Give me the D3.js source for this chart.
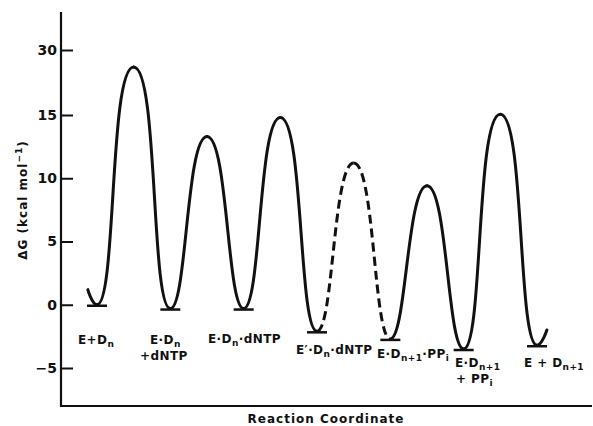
<!DOCTYPE html>
<html>
<head>
<meta charset="utf-8">
<script src="https://cdn.jsdelivr.net/npm/d3@7"></script>
<style>
body { margin: 0; background: #fff; }
text { font-family: "DejaVu Sans", sans-serif; font-weight: bold; fill: #111; }
</style>
</head>
<body>
<svg id="chart" width="593" height="426"></svg>
<script>
// stationary points of the free energy profile (reaction coordinate, kcal/mol)
var coord = [-0.25, 0, 1, 2, 3, 4, 5, 6, 7, 8, 9, 10, 11, 12, 12.27]
var energy = [1.2, 0, 26.1, -0.3, 13.3, -0.3, 14.8, -2.1, 11.2, -2.7, 9.4, -3.5, 15.2, -3.2, -2.0]

// segments (point i -> i+1) drawn dashed
var dashedSegs = [7, 8]

// ground states and their labels ({..} = subscript, ^..^ = superscript)
var stateCoord = [0, 2, 4, 6, 8, 10, 12]
var stateEnergy = [0, -0.3, -0.3, -2.1, -2.7, -3.5, -3.2]
var stateLabels = [
	["E+D{n}"],
	["E·D{n}", "+dNTP"],
	["E·D{n}·dNTP"],
	["E′·D{n}·dNTP"],
	["E·D{n+1}·PP{i}"],
	["E·D{n+1}", "+ PP{i}"],
	["E + D{n+1}"]
]

// y axis ticks (the axis is broken above 15)
var tickValues = [-5, 0, 5, 10, 15, 30]
var tickLabels = ["−5", "0", "5", "10", "15", "30"]

// label placement: left x, first baseline, left x of second line
var labelPos = [
	[78, 344], [150, 344, 140], [208, 343], [296, 354],
	[377, 358], [455, 367, 456], [524, 367]
]

var svg = d3.select("#chart")

var x = d3.scaleLinear().domain([0, 12]).range([97, 537])
var y = d3.scaleLinear().domain([-5, 15, 30]).range([368, 115, 50])

// axes
svg.append("line").attr("x1", 61).attr("x2", 61).attr("y1", 12).attr("y2", 407)
	.attr("stroke", "#111").attr("stroke-width", 2.2)
svg.append("line").attr("x1", 60).attr("x2", 592).attr("y1", 406).attr("y2", 406)
	.attr("stroke", "#111").attr("stroke-width", 2.2)

var yAxis = d3.axisRight(y)
	.tickValues(tickValues)
	.tickSize(12)
	.tickFormat(function(d, i) { return tickLabels[i] })
var ga = svg.append("g").attr("transform", "translate(61,0)").call(yAxis)
ga.select(".domain").remove()
ga.selectAll(".tick line").attr("stroke", "#111").attr("stroke-width", 2)
ga.selectAll(".tick text")
	.attr("x", -4)
	.attr("text-anchor", "end")
	.style("font-family", '"DejaVu Sans", sans-serif')
	.style("font-weight", "bold")
	.style("font-size", "14px")
	.attr("fill", "#111")

// energy profile: each segment a cubic with flat tangents at extrema
function kind(i) {
	if (i == 0 || i == energy.length - 1) return "end"
	return energy[i] > energy[i - 1] ? "peak" : "well"
}
function ctrl(i, dy, dx) {
	var k = kind(i)
	if (k == "end") return 0
	var r = k == "peak" ? 3.8 : 2.4
	return Math.min(Math.sqrt(2 * r * dy / 3), 0.8 * dx)
}
for (var i = 0; i < coord.length - 1; i++) {
	var x0 = x(coord[i]), y0 = y(energy[i])
	var x1 = x(coord[i + 1]), y1 = y(energy[i + 1])
	var dy = Math.abs(y1 - y0), dx = x1 - x0
	var p = d3.path()
	p.moveTo(x0, y0)
	p.bezierCurveTo(x0 + ctrl(i, dy, dx), y0, x1 - ctrl(i + 1, dy, dx), y1, x1, y1)
	var seg = svg.append("path")
		.attr("d", p.toString())
		.attr("fill", "none")
		.attr("stroke", "#111")
		.attr("stroke-width", 3)
		.attr("stroke-linecap", "round")
	if (dashedSegs.indexOf(i) >= 0) seg.attr("stroke-dasharray", "9,5").attr("stroke-linecap", "butt")
}

// ground state bars
svg.selectAll(".bar")
	.data(stateCoord)
	.enter()
	.append("line")
	.attr("x1", function(d) { return x(d) - 10 })
	.attr("x2", function(d) { return x(d) + 10 })
	.attr("y1", function(d, i) { return y(stateEnergy[i]) + 1 })
	.attr("y2", function(d, i) { return y(stateEnergy[i]) + 1 })
	.attr("stroke", "#111")
	.attr("stroke-width", 2.5)

// rich text: {sub} and ^sup^, shift carried to the next piece
function rich(t, str, size) {
	var parts = str.split(/(\{[^}]*\}|\^[^^]*\^)/).filter(function(s) { return s })
	var back = 0
	parts.forEach(function(s) {
		if (s[0] == "{") {
			t.append("tspan").attr("dy", back + 3).style("font-size", (size - 3) + "px").text(s.slice(1, -1))
			back = -3
		} else if (s[0] == "^") {
			t.append("tspan").attr("dy", back - 5).style("font-size", (size - 3) + "px").text(s.slice(1, -1))
			back = 5
		} else {
			t.append("tspan").attr("dy", back).text(s)
			back = 0
		}
	})
}

stateLabels.forEach(function(lines, i) {
	var pos = labelPos[i]
	lines.forEach(function(line, j) {
		var t = svg.append("text")
			.attr("x", j == 0 ? pos[0] : pos[2])
			.attr("y", pos[1] + j * 16)
			.style("font-size", "12px")
			.style("letter-spacing", "0.4px")
		rich(t, line, 12)
	})
})

// axis titles
var yt = svg.append("text")
	.attr("transform", "translate(27,200) rotate(-90)")
	.attr("text-anchor", "middle")
	.style("font-size", "12px")
	.style("letter-spacing", "1px")
rich(yt, "ΔG (kcal mol^−1^)", 12)

svg.append("text")
	.attr("x", 326)
	.attr("y", 423)
	.attr("text-anchor", "middle")
	.style("font-size", "12px")
	.style("letter-spacing", "1px")
	.text("Reaction Coordinate")
</script>
</body>
</html>
